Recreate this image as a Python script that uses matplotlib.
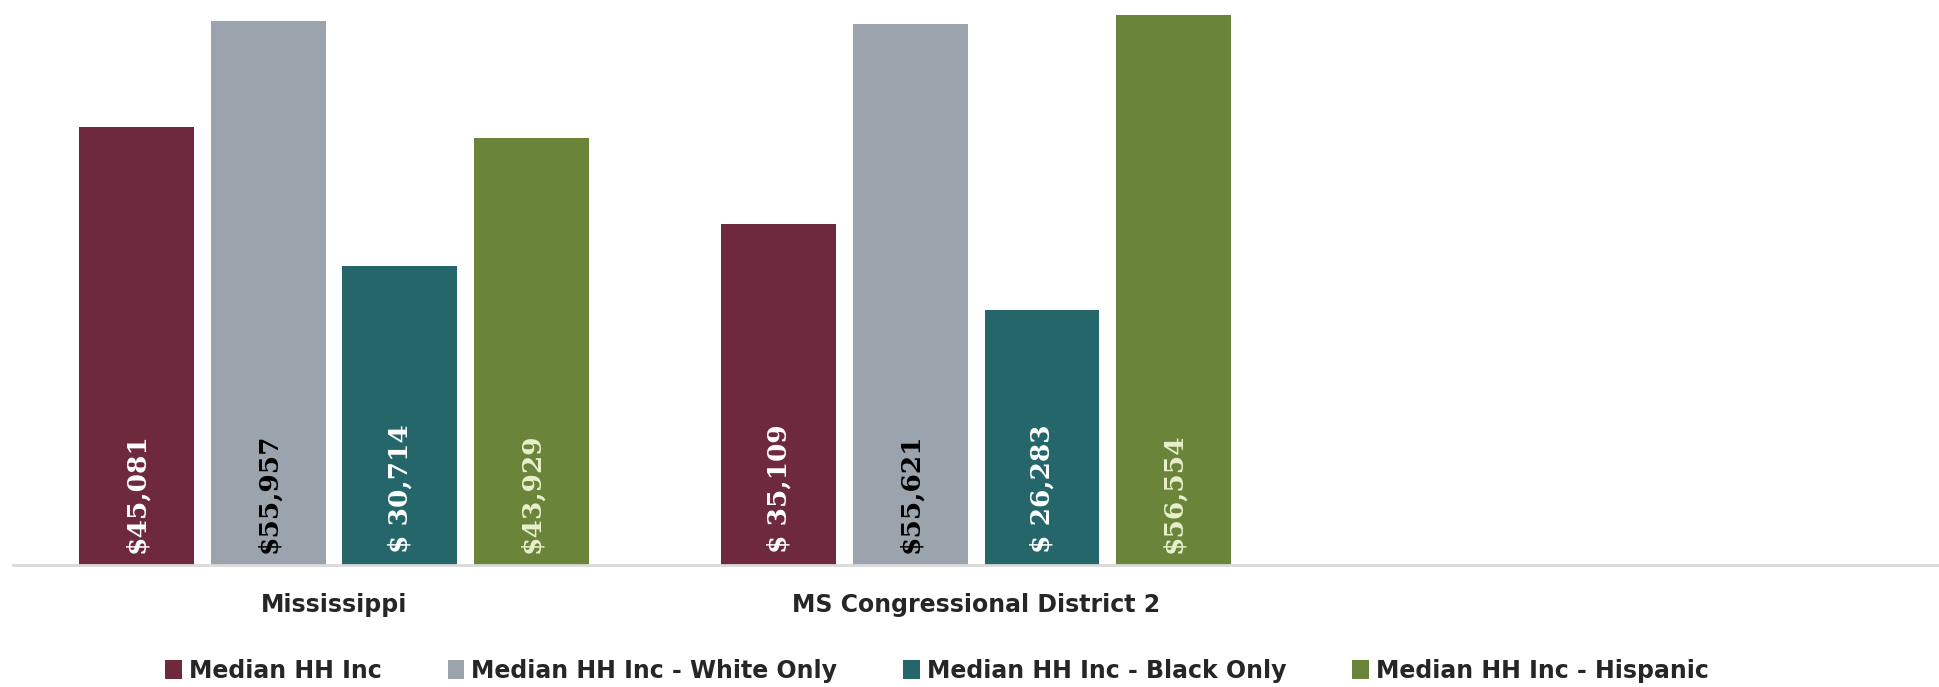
import matplotlib
matplotlib.use('Agg')
from matplotlib import pyplot as plt
import numpy as np

# categories (third slot is empty in the original chart)
categories = ['Mississippi', 'MS Congressional District 2', '']
series_names = ['Median HH Inc', 'Median HH Inc - White Only',
                'Median HH Inc - Black Only', 'Median HH Inc - Hispanic']
med_all = [45081, 35109, 0]
med_white = [55957, 55621, 0]
med_black = [30714, 26283, 0]
med_hisp = [43929, 56554, 0]
value_labels = [['$45,081', '$ 35,109'],
                ['$55,957', '$55,621'],
                ['$ 30,714', '$ 26,283'],
                ['$43,929', '$56,554']]

colors = ['#6E2A3C', '#9BA4AD', '#25666B', '#6A843A']
text_colors = ['white', 'black', 'white', '#E8F0CC']

plt.rcParams['font.family'] = ['DejaVu Sans']

fig = plt.figure(figsize=(19.4, 6.87), dpi=100)
ax = fig.add_axes([10.5/1568, 0.177, 1557/1568, 0.823])

series = [med_all, med_white, med_black, med_hisp]
x = np.arange(len(categories))
width = 0.179
pitch = 0.205
handles = []
for i, vals in enumerate(series):
    off = (i - 1.5)*pitch
    bars = ax.bar(x[:2] + off, vals[:2], width, color=colors[i], label=series_names[i])
    handles.append(bars)
    for j, b in enumerate(bars):
        ax.text(b.get_x() + b.get_width()/2, 1300, value_labels[i][j],
                rotation=90, ha='center', va='bottom', color=text_colors[i],
                fontsize=19, fontweight='bold', family=['DejaVu Serif'])

ax.set_xlim(-0.5, 2.5)
ax.set_ylim(0, 58080)
ax.set_xticks(x[:2])
ax.set_xticklabels(categories[:2], fontsize=17, fontweight='bold', color='#262626')
ax.tick_params(axis='x', length=0, pad=20)
ax.set_yticks([])
for s in ['top', 'right', 'left']:
    ax.spines[s].set_visible(False)
ax.spines['bottom'].set_color('#D9D9D9')
ax.spines['bottom'].set_linewidth(2)

fig.legend(handles=handles, labels=series_names, loc='center',
           bbox_to_anchor=(0.483, 0.024), ncol=4, frameon=False,
           prop={'size': 17, 'weight': 'bold'}, handlelength=0.7, handleheight=0.9,
           handletextpad=0.3, columnspacing=2.8, labelcolor='#262626')

fig.savefig('out.png', dpi=100)
